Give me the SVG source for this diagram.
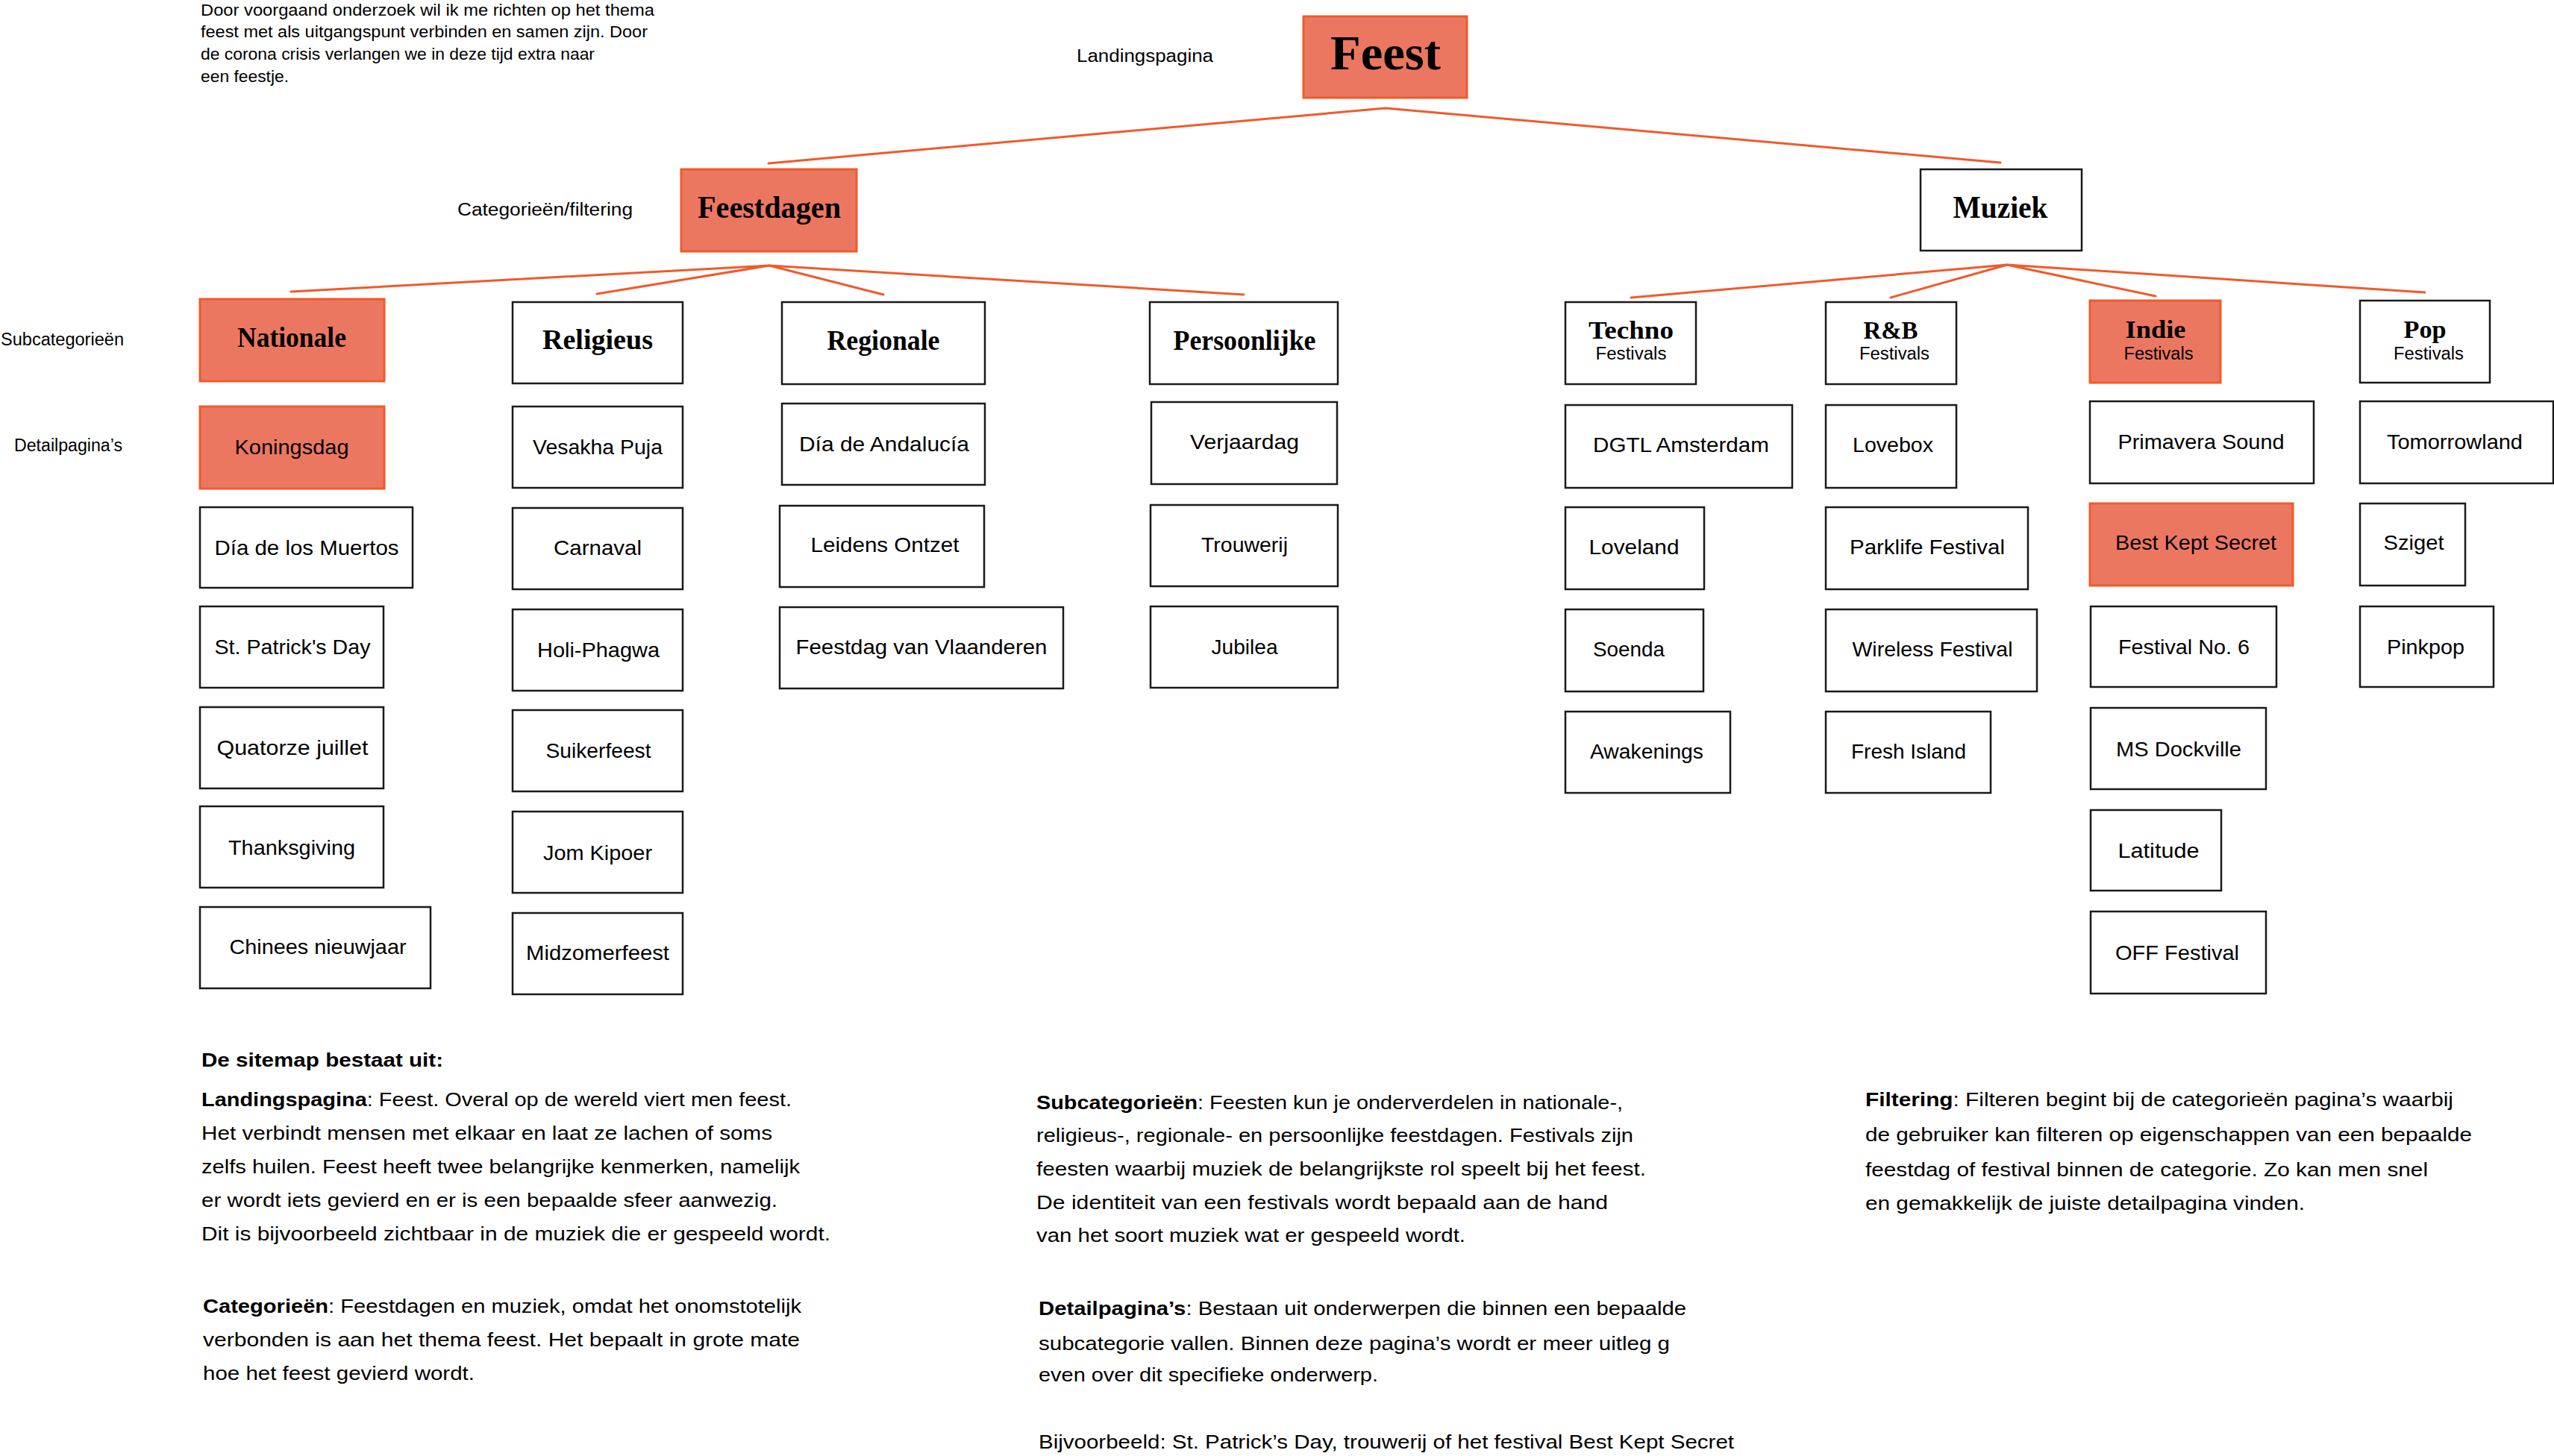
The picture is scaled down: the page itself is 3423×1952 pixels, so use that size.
<svg xmlns="http://www.w3.org/2000/svg" width="3423" height="1952" viewBox="0 0 3423 1952">
<style>
.bg{fill:#ffffff}
.nw{fill:#ffffff;stroke:#1a1a1a;stroke-width:2.5}
.ns{fill:#ec7761;stroke:#f15a2b;stroke-width:3}
.con{fill:none;stroke:#f15a2b;stroke-width:3;stroke-linecap:round;stroke-linejoin:round}
.h{font-family:"Liberation Serif","DejaVu Serif",serif;font-weight:bold;fill:#000;text-anchor:middle}
.l{font-family:"Liberation Sans","DejaVu Sans",sans-serif;font-size:28px;fill:#000;text-anchor:middle}
.sub{font-family:"Liberation Sans","DejaVu Sans",sans-serif;font-size:23px;fill:#000;text-anchor:middle}
.a{font-family:"Liberation Sans","DejaVu Sans",sans-serif;font-size:23px;fill:#000}
.p{font-family:"Liberation Sans","DejaVu Sans",sans-serif;font-size:25px;fill:#000}
.t{font-family:"Liberation Sans","DejaVu Sans",sans-serif;font-size:22px;fill:#000}
.b{font-weight:bold}
</style>
<rect class="bg" x="0" y="0" width="3423" height="1952"/>

<g id="intro">
<text class="t" x="269" y="21" textLength="608" lengthAdjust="spacingAndGlyphs">Door voorgaand onderzoek wil ik me richten op het thema</text>
<text class="t" x="269" y="50" textLength="599" lengthAdjust="spacingAndGlyphs">feest met als uitgangspunt verbinden en samen zijn. Door</text>
<text class="t" x="269" y="80" textLength="528" lengthAdjust="spacingAndGlyphs">de corona crisis verlangen we in deze tijd extra naar</text>
<text class="t" x="269" y="110" textLength="118" lengthAdjust="spacingAndGlyphs">een feestje.</text>
</g>

<g id="level-labels">
<text class="a" x="1443" y="83" textLength="183" lengthAdjust="spacingAndGlyphs">Landingspagina</text>
<text class="a" x="613" y="289" textLength="235" lengthAdjust="spacingAndGlyphs">Categorieën/filtering</text>
<text class="a" x="1" y="463" textLength="165" lengthAdjust="spacingAndGlyphs">Subcategorieën</text>
<text class="a" x="19" y="605" textLength="145" lengthAdjust="spacingAndGlyphs">Detailpagina’s</text>
</g>

<g id="connectors">
<polyline class="con" points="1030,219 1857,145 2681,218"/>
<polyline class="con" points="390,391 1031,356 800,394"/>
<polyline class="con" points="1184,395 1031,356 1667,395"/>
<polyline class="con" points="2186,399 2690,355 2534,399"/>
<polyline class="con" points="2889,397 2690,355 3250,392"/>
</g>

<g id="node-feest"><rect class="ns" x="1747" y="22" width="219" height="109"/><text class="h" x="1857" y="93" font-size="66" textLength="148" lengthAdjust="spacingAndGlyphs">Feest</text></g>
<g id="node-feestdagen"><rect class="ns" x="913" y="227" width="235" height="110"/><text class="h" x="1031" y="292" font-size="42" textLength="192" lengthAdjust="spacingAndGlyphs">Feestdagen</text></g>
<g id="node-muziek"><rect class="nw" x="2574" y="227" width="216" height="109"/><text class="h" x="2681" y="292" font-size="42" textLength="127" lengthAdjust="spacingAndGlyphs">Muziek</text></g>

<g id="node-nationale"><rect class="ns" x="268" y="401" width="247" height="110"/><text class="h" x="391" y="465" font-size="37" textLength="146" lengthAdjust="spacingAndGlyphs">Nationale</text></g>
<g id="node-religieus"><rect class="nw" x="687" y="405" width="228" height="109"/><text class="h" x="801" y="468" font-size="37" textLength="148" lengthAdjust="spacingAndGlyphs">Religieus</text></g>
<g id="node-regionale"><rect class="nw" x="1048" y="405" width="272" height="110"/><text class="h" x="1184" y="469" font-size="37" textLength="151" lengthAdjust="spacingAndGlyphs">Regionale</text></g>
<g id="node-persoonlijke"><rect class="nw" x="1541" y="405" width="252" height="110"/><text class="h" x="1668" y="469" font-size="37" textLength="191" lengthAdjust="spacingAndGlyphs">Persoonlijke</text></g>

<g id="node-koningsdag"><rect class="ns" x="268" y="545" width="247" height="110"/><text class="l" x="391" y="609" textLength="153" lengthAdjust="spacingAndGlyphs">Koningsdag</text></g>
<g id="node-dia-de-los-muertos"><rect class="nw" x="268" y="680" width="285" height="108"/><text class="l" x="411" y="744" textLength="247" lengthAdjust="spacingAndGlyphs">Día de los Muertos</text></g>
<g id="node-st-patricks-day"><rect class="nw" x="268" y="813" width="246" height="109"/><text class="l" x="392" y="877" textLength="209" lengthAdjust="spacingAndGlyphs">St. Patrick's Day</text></g>
<g id="node-quatorze-juillet"><rect class="nw" x="268" y="948" width="246" height="109"/><text class="l" x="392" y="1012" textLength="203" lengthAdjust="spacingAndGlyphs">Quatorze juillet</text></g>
<g id="node-thanksgiving"><rect class="nw" x="268" y="1081" width="246" height="109"/><text class="l" x="391" y="1146" textLength="170" lengthAdjust="spacingAndGlyphs">Thanksgiving</text></g>
<g id="node-chinees-nieuwjaar"><rect class="nw" x="268" y="1216" width="309" height="109"/><text class="l" x="426" y="1279" textLength="237" lengthAdjust="spacingAndGlyphs">Chinees nieuwjaar</text></g>

<g id="node-vesakha-puja"><rect class="nw" x="687" y="545" width="228" height="109"/><text class="l" x="801" y="609" textLength="174" lengthAdjust="spacingAndGlyphs">Vesakha Puja</text></g>
<g id="node-carnaval"><rect class="nw" x="687" y="681" width="228" height="109"/><text class="l" x="801" y="744" textLength="118" lengthAdjust="spacingAndGlyphs">Carnaval</text></g>
<g id="node-holi-phagwa"><rect class="nw" x="687" y="817" width="228" height="109"/><text class="l" x="802" y="881" textLength="164" lengthAdjust="spacingAndGlyphs">Holi-Phagwa</text></g>
<g id="node-suikerfeest"><rect class="nw" x="687" y="952" width="228" height="109"/><text class="l" x="802" y="1016" textLength="141" lengthAdjust="spacingAndGlyphs">Suikerfeest</text></g>
<g id="node-jom-kipoer"><rect class="nw" x="687" y="1088" width="228" height="109"/><text class="l" x="801" y="1153" textLength="146" lengthAdjust="spacingAndGlyphs">Jom Kipoer</text></g>
<g id="node-midzomerfeest"><rect class="nw" x="687" y="1224" width="228" height="109"/><text class="l" x="801" y="1287" textLength="192" lengthAdjust="spacingAndGlyphs">Midzomerfeest</text></g>

<g id="node-dia-de-andalucia"><rect class="nw" x="1048" y="541" width="272" height="109"/><text class="l" x="1185" y="605" textLength="228" lengthAdjust="spacingAndGlyphs">Día de Andalucía</text></g>
<g id="node-leidens-ontzet"><rect class="nw" x="1045" y="678" width="274" height="109"/><text class="l" x="1186" y="740" textLength="199" lengthAdjust="spacingAndGlyphs">Leidens Ontzet</text></g>
<g id="node-feestdag-van-vlaanderen"><rect class="nw" x="1045" y="814" width="380" height="109"/><text class="l" x="1235" y="877" textLength="337" lengthAdjust="spacingAndGlyphs">Feestdag van Vlaanderen</text></g>

<g id="node-verjaardag"><rect class="nw" x="1543" y="539" width="249" height="110"/><text class="l" x="1668" y="602" textLength="146" lengthAdjust="spacingAndGlyphs">Verjaardag</text></g>
<g id="node-trouwerij"><rect class="nw" x="1542" y="677" width="251" height="109"/><text class="l" x="1668" y="740" textLength="116" lengthAdjust="spacingAndGlyphs">Trouwerij</text></g>
<g id="node-jubilea"><rect class="nw" x="1542" y="813" width="251" height="109"/><text class="l" x="1668" y="877" textLength="89" lengthAdjust="spacingAndGlyphs">Jubilea</text></g>

<g id="node-techno"><rect class="nw" x="2098" y="405" width="175" height="110"/><text class="h" x="2186" y="454" font-size="34" textLength="114" lengthAdjust="spacingAndGlyphs">Techno</text><text class="sub" x="2186" y="482" textLength="95" lengthAdjust="spacingAndGlyphs">Festivals</text></g>
<g id="node-rnb"><rect class="nw" x="2447" y="405" width="175" height="110"/><text class="h" x="2534" y="454" font-size="34" textLength="73" lengthAdjust="spacingAndGlyphs">R&amp;B</text><text class="sub" x="2539" y="482" textLength="94" lengthAdjust="spacingAndGlyphs">Festivals</text></g>
<g id="node-indie"><rect class="ns" x="2801" y="403" width="175" height="110"/><text class="h" x="2889" y="453" font-size="34" textLength="81" lengthAdjust="spacingAndGlyphs">Indie</text><text class="sub" x="2893" y="482" textLength="93" lengthAdjust="spacingAndGlyphs">Festivals</text></g>
<g id="node-pop"><rect class="nw" x="3163" y="403" width="174" height="110"/><text class="h" x="3250" y="453" font-size="34" textLength="57" lengthAdjust="spacingAndGlyphs">Pop</text><text class="sub" x="3255" y="482" textLength="94" lengthAdjust="spacingAndGlyphs">Festivals</text></g>

<g id="node-dgtl-amsterdam"><rect class="nw" x="2098" y="543" width="304" height="111"/><text class="l" x="2253" y="606" textLength="236" lengthAdjust="spacingAndGlyphs">DGTL Amsterdam</text></g>
<g id="node-loveland"><rect class="nw" x="2098" y="680" width="186" height="110"/><text class="l" x="2190" y="743" textLength="121" lengthAdjust="spacingAndGlyphs">Loveland</text></g>
<g id="node-soenda"><rect class="nw" x="2098" y="817" width="185" height="110"/><text class="l" x="2183" y="880" textLength="96" lengthAdjust="spacingAndGlyphs">Soenda</text></g>
<g id="node-awakenings"><rect class="nw" x="2098" y="954" width="221" height="109"/><text class="l" x="2207" y="1017" textLength="152" lengthAdjust="spacingAndGlyphs">Awakenings</text></g>

<g id="node-lovebox"><rect class="nw" x="2447" y="543" width="175" height="111"/><text class="l" x="2537" y="606" textLength="108" lengthAdjust="spacingAndGlyphs">Lovebox</text></g>
<g id="node-parklife-festival"><rect class="nw" x="2447" y="680" width="271" height="110"/><text class="l" x="2583" y="743" textLength="208" lengthAdjust="spacingAndGlyphs">Parklife Festival</text></g>
<g id="node-wireless-festival"><rect class="nw" x="2447" y="817" width="283" height="110"/><text class="l" x="2590" y="880" textLength="215" lengthAdjust="spacingAndGlyphs">Wireless Festival</text></g>
<g id="node-fresh-island"><rect class="nw" x="2447" y="954" width="221" height="109"/><text class="l" x="2558" y="1017" textLength="154" lengthAdjust="spacingAndGlyphs">Fresh Island</text></g>

<g id="node-primavera-sound"><rect class="nw" x="2801" y="538" width="300" height="110"/><text class="l" x="2950" y="602" textLength="223" lengthAdjust="spacingAndGlyphs">Primavera Sound</text></g>
<g id="node-best-kept-secret"><rect class="ns" x="2801" y="675" width="272" height="110"/><text class="l" x="2943" y="737" textLength="216" lengthAdjust="spacingAndGlyphs">Best Kept Secret</text></g>
<g id="node-festival-no-6"><rect class="nw" x="2802" y="813" width="249" height="108"/><text class="l" x="2927" y="877" textLength="176" lengthAdjust="spacingAndGlyphs">Festival No. 6</text></g>
<g id="node-ms-dockville"><rect class="nw" x="2802" y="949" width="235" height="109"/><text class="l" x="2920" y="1014" textLength="168" lengthAdjust="spacingAndGlyphs">MS Dockville</text></g>
<g id="node-latitude"><rect class="nw" x="2802" y="1086" width="175" height="108"/><text class="l" x="2893" y="1150" textLength="109" lengthAdjust="spacingAndGlyphs">Latitude</text></g>
<g id="node-off-festival"><rect class="nw" x="2802" y="1222" width="235" height="110"/><text class="l" x="2918" y="1287" textLength="166" lengthAdjust="spacingAndGlyphs">OFF Festival</text></g>

<g id="node-tomorrowland"><rect class="nw" x="3163" y="538" width="259" height="110"/><text class="l" x="3290" y="602" textLength="182" lengthAdjust="spacingAndGlyphs">Tomorrowland</text></g>
<g id="node-sziget"><rect class="nw" x="3163" y="675" width="141" height="110"/><text class="l" x="3235" y="737" textLength="81" lengthAdjust="spacingAndGlyphs">Sziget</text></g>
<g id="node-pinkpop"><rect class="nw" x="3163" y="813" width="179" height="108"/><text class="l" x="3251" y="877" textLength="104" lengthAdjust="spacingAndGlyphs">Pinkpop</text></g>

<g id="explanation">
<text class="p b" x="270" y="1430" textLength="324" lengthAdjust="spacingAndGlyphs">De sitemap bestaat uit:</text>
<text class="p" x="270" y="1483" textLength="791" lengthAdjust="spacingAndGlyphs"><tspan class="b">Landingspagina</tspan>: Feest. Overal op de wereld viert men feest.</text>
<text class="p" x="270" y="1528" textLength="765" lengthAdjust="spacingAndGlyphs">Het verbindt mensen met elkaar en laat ze lachen of soms</text>
<text class="p" x="270" y="1573" textLength="802" lengthAdjust="spacingAndGlyphs">zelfs huilen. Feest heeft twee belangrijke kenmerken, namelijk</text>
<text class="p" x="270" y="1618" textLength="772" lengthAdjust="spacingAndGlyphs">er wordt iets gevierd en er is een bepaalde sfeer aanwezig.</text>
<text class="p" x="270" y="1663" textLength="843" lengthAdjust="spacingAndGlyphs">Dit is bijvoorbeeld zichtbaar in de muziek die er gespeeld wordt.</text>
<text class="p" x="272" y="1760" textLength="802" lengthAdjust="spacingAndGlyphs"><tspan class="b">Categorieën</tspan>: Feestdagen en muziek, omdat het onomstotelijk</text>
<text class="p" x="272" y="1805" textLength="800" lengthAdjust="spacingAndGlyphs">verbonden is aan het thema feest. Het bepaalt in grote mate</text>
<text class="p" x="272" y="1850" textLength="364" lengthAdjust="spacingAndGlyphs">hoe het feest gevierd wordt.</text>

<text class="p" x="1389" y="1487" textLength="786" lengthAdjust="spacingAndGlyphs"><tspan class="b">Subcategorieën</tspan>: Feesten kun je onderverdelen in nationale-,</text>
<text class="p" x="1389" y="1531" textLength="800" lengthAdjust="spacingAndGlyphs">religieus-, regionale- en persoonlijke feestdagen. Festivals zijn</text>
<text class="p" x="1389" y="1576" textLength="817" lengthAdjust="spacingAndGlyphs">feesten waarbij muziek de belangrijkste rol speelt bij het feest.</text>
<text class="p" x="1389" y="1621" textLength="766" lengthAdjust="spacingAndGlyphs">De identiteit van een festivals wordt bepaald aan de hand</text>
<text class="p" x="1389" y="1665" textLength="575" lengthAdjust="spacingAndGlyphs">van het soort muziek wat er gespeeld wordt.</text>
<text class="p" x="1392" y="1763" textLength="868" lengthAdjust="spacingAndGlyphs"><tspan class="b">Detailpagina’s</tspan>: Bestaan uit onderwerpen die binnen een bepaalde</text>
<text class="p" x="1392" y="1810" textLength="846" lengthAdjust="spacingAndGlyphs">subcategorie vallen. Binnen deze pagina’s wordt er meer uitleg g</text>
<text class="p" x="1392" y="1852" textLength="455" lengthAdjust="spacingAndGlyphs">even over dit specifieke onderwerp.</text>
<text class="p" x="1392" y="1942" textLength="932" lengthAdjust="spacingAndGlyphs">Bijvoorbeeld: St. Patrick’s Day, trouwerij of het festival Best Kept Secret</text>

<text class="p" x="2500" y="1483" textLength="788" lengthAdjust="spacingAndGlyphs"><tspan class="b">Filtering</tspan>: Filteren begint bij de categorieën pagina’s waarbij</text>
<text class="p" x="2500" y="1530" textLength="813" lengthAdjust="spacingAndGlyphs">de gebruiker kan filteren op eigenschappen van een bepaalde</text>
<text class="p" x="2500" y="1577" textLength="754" lengthAdjust="spacingAndGlyphs">feestdag of festival binnen de categorie. Zo kan men snel</text>
<text class="p" x="2500" y="1622" textLength="589" lengthAdjust="spacingAndGlyphs">en gemakkelijk de juiste detailpagina vinden.</text>
</g>
</svg>
